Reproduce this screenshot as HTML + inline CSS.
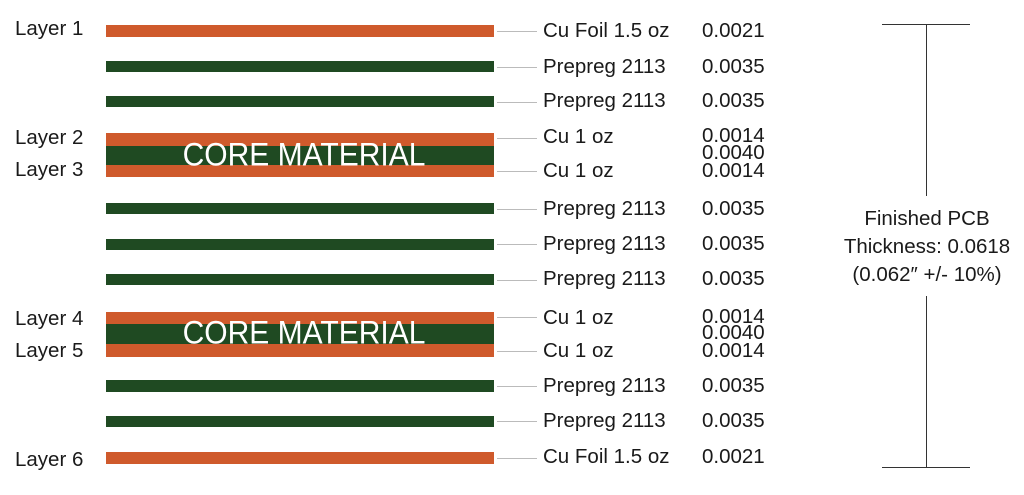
<!DOCTYPE html><html><head><style>
body{margin:0;width:1024px;height:495px;background:#fff;position:relative;overflow:hidden;font-family:"Liberation Sans",sans-serif;color:#1a1a1a}
.b{position:absolute;left:106px;width:388px}
.o{background:#cf5a2c}.g{background:#1f4a22}
.t{position:absolute;font-size:20.5px;line-height:20px;white-space:nowrap}
.l{position:absolute;left:497px;width:40px;height:1px;background:#bbb}
.c{position:absolute;left:110px;width:388px;text-align:center;color:#fff;font-size:30px;line-height:30px;transform:scaleY(1.08)}
</style></head><body>
<div class="b o" style="top:25px;height:12px"></div>
<div class="b g" style="top:61px;height:11px"></div>
<div class="b g" style="top:96px;height:11px"></div>
<div class="b o" style="top:133px;height:13px"></div>
<div class="b g" style="top:146px;height:19px"></div>
<div class="b o" style="top:165px;height:12px"></div>
<div class="c" style="top:141px">CORE MATERIAL</div>
<div class="b g" style="top:203px;height:11px"></div>
<div class="b g" style="top:239px;height:11px"></div>
<div class="b g" style="top:274px;height:11px"></div>
<div class="b o" style="top:312px;height:12px"></div>
<div class="b g" style="top:324px;height:20px"></div>
<div class="b o" style="top:344px;height:13px"></div>
<div class="c" style="top:319px">CORE MATERIAL</div>
<div class="b g" style="top:380px;height:12px"></div>
<div class="b g" style="top:416px;height:11px"></div>
<div class="b o" style="top:452px;height:12px"></div>

<div class="t" style="left:15px;top:19px">Layer 1</div>
<div class="t" style="left:15px;top:128px">Layer 2</div>
<div class="t" style="left:15px;top:160px">Layer 3</div>
<div class="t" style="left:15px;top:309px">Layer 4</div>
<div class="t" style="left:15px;top:341px">Layer 5</div>
<div class="t" style="left:15px;top:450px">Layer 6</div>

<div class="l" style="top:31px"></div><div class="t" style="left:543px;top:21px">Cu Foil 1.5 oz</div><div class="t" style="left:702px;top:21px">0.0021</div>
<div class="l" style="top:67px"></div><div class="t" style="left:543px;top:57px">Prepreg 2113</div><div class="t" style="left:702px;top:57px">0.0035</div>
<div class="l" style="top:102px"></div><div class="t" style="left:543px;top:91px">Prepreg 2113</div><div class="t" style="left:702px;top:91px">0.0035</div>
<div class="l" style="top:138px"></div><div class="t" style="left:543px;top:127px">Cu 1 oz</div><div class="t" style="left:702px;top:126px">0.0014</div>
<div class="t" style="left:702px;top:143px">0.0040</div>
<div class="l" style="top:171px"></div><div class="t" style="left:543px;top:161px">Cu 1 oz</div><div class="t" style="left:702px;top:161px">0.0014</div>
<div class="l" style="top:209px"></div><div class="t" style="left:543px;top:199px">Prepreg 2113</div><div class="t" style="left:702px;top:199px">0.0035</div>
<div class="l" style="top:244px"></div><div class="t" style="left:543px;top:234px">Prepreg 2113</div><div class="t" style="left:702px;top:234px">0.0035</div>
<div class="l" style="top:280px"></div><div class="t" style="left:543px;top:269px">Prepreg 2113</div><div class="t" style="left:702px;top:269px">0.0035</div>
<div class="l" style="top:317px"></div><div class="t" style="left:543px;top:308px">Cu 1 oz</div><div class="t" style="left:702px;top:307px">0.0014</div>
<div class="t" style="left:702px;top:323px">0.0040</div>
<div class="l" style="top:351px"></div><div class="t" style="left:543px;top:341px">Cu 1 oz</div><div class="t" style="left:702px;top:341px">0.0014</div>
<div class="l" style="top:386px"></div><div class="t" style="left:543px;top:376px">Prepreg 2113</div><div class="t" style="left:702px;top:376px">0.0035</div>
<div class="l" style="top:421px"></div><div class="t" style="left:543px;top:411px">Prepreg 2113</div><div class="t" style="left:702px;top:411px">0.0035</div>
<div class="l" style="top:458px"></div><div class="t" style="left:543px;top:447px">Cu Foil 1.5 oz</div><div class="t" style="left:702px;top:447px">0.0021</div>

<div style="position:absolute;left:882px;top:24px;width:88px;height:1px;background:#333"></div>
<div style="position:absolute;left:926px;top:24px;width:1px;height:172px;background:#333"></div>
<div style="position:absolute;left:926px;top:296px;width:1px;height:171px;background:#333"></div>
<div style="position:absolute;left:882px;top:467px;width:88px;height:1px;background:#333"></div>
<div class="t" style="left:827px;top:205px;width:200px;text-align:center;line-height:28px">Finished PCB<br>Thickness: 0.0618<br>(0.062″ +/- 10%)</div>
</body></html>
